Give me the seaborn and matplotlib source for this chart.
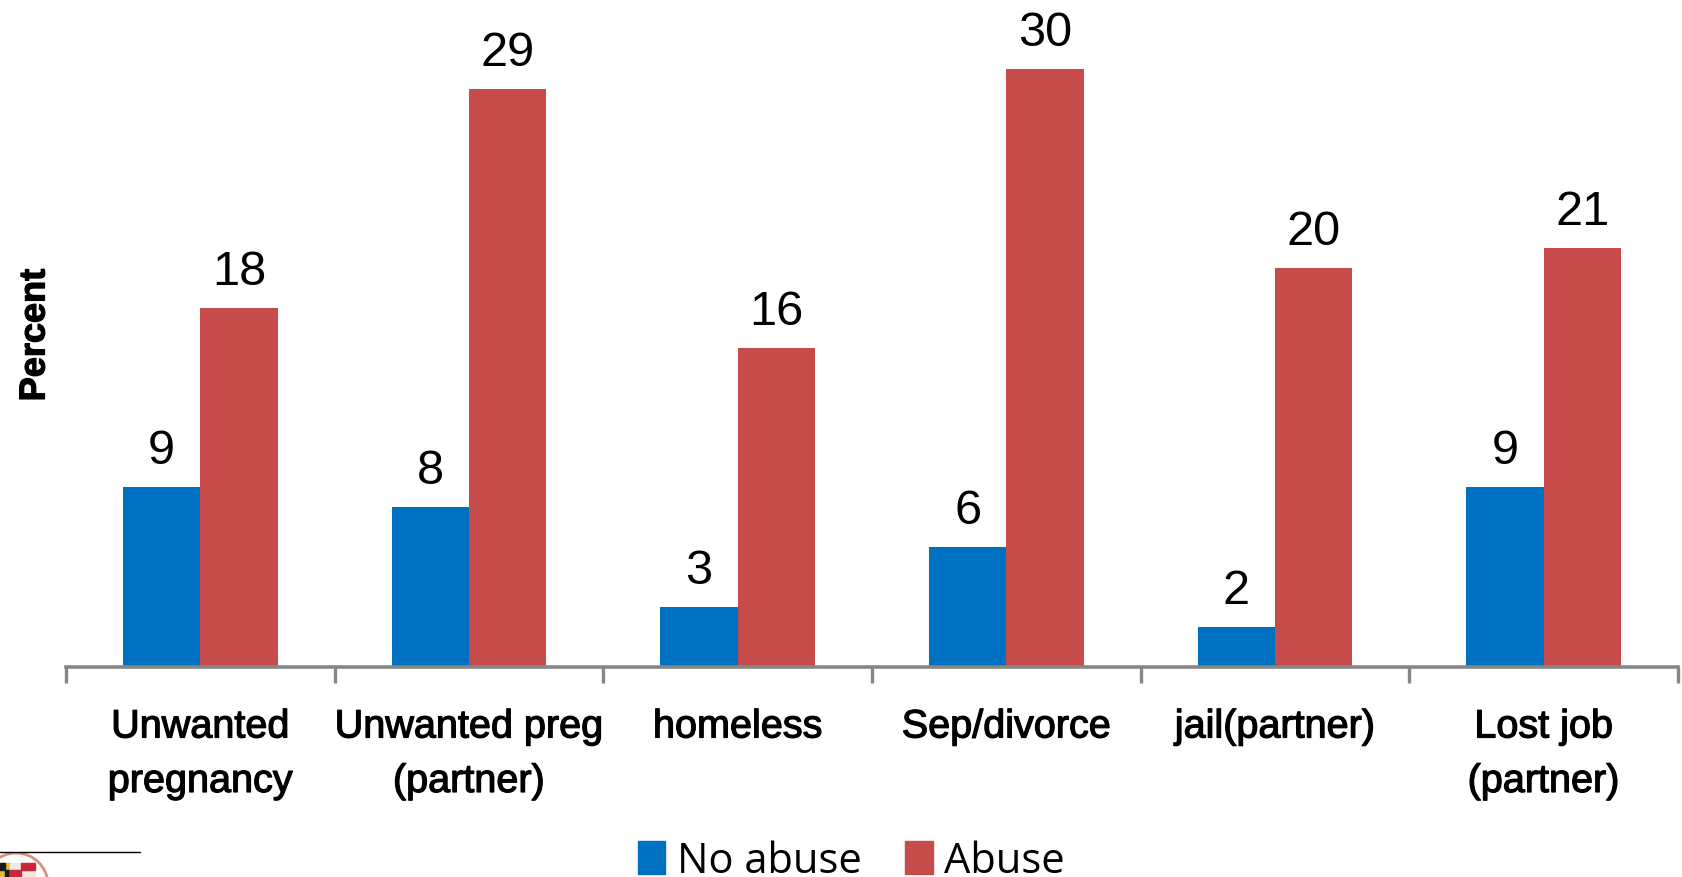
import matplotlib
matplotlib.use("Agg")
import matplotlib.pyplot as plt
import matplotlib.patheffects as pe
from matplotlib.patches import Circle, Rectangle
from matplotlib.ticker import FixedLocator
import pandas as pd
import seaborn as sns

categories = ["Unwanted\npregnancy", "Unwanted preg\n(partner)", "homeless",
              "Sep/divorce", "jail(partner)", "Lost job\n(partner)"]
no_abuse = [9, 8, 3, 6, 2, 9]
abuse = [18, 29, 16, 30, 20, 21]
series_names = ["No abuse", "Abuse"]
series_colors = ["#0070C0", "#C84B4B"]

W, H = 1683, 878
sns.set_theme(style="white")
plt.rcParams["font.family"] = ["Liberation Sans", "DejaVu Sans"]

frame = pd.DataFrame({
    "category": categories * 2,
    "series": [series_names[0]] * 6 + [series_names[1]] * 6,
    "percent": no_abuse + abuse,
})

fig = plt.figure(figsize=(W / 100, H / 100), dpi=100)
ax = fig.add_axes([66 / W, (H - 667.5) / H, (1678 - 66) / W, 667.5 / H])
sns.barplot(data=frame, x="category", y="percent", hue="series",
            hue_order=series_names, palette=series_colors, saturation=1,
            width=0.575, gap=0, legend=False, linewidth=0, ax=ax)

ax.set_xlim(-0.5, 5.5)
ax.set_ylim(0, 667.5 / 19.92)
ax.set_yticks([])
ax.set_xlabel("")
ax.set_ylabel("")
sns.despine(ax=ax, left=True)
ax.spines["bottom"].set_color("#868686")
ax.spines["bottom"].set_linewidth(2.6)

# Category separators hang below the axis; labels sit on the major positions
ax.xaxis.set_minor_locator(FixedLocator([i - 0.5 for i in range(7)]))
ax.tick_params(axis="x", which="minor", bottom=True, length=11.5, width=2.4, color="#868686")
ax.tick_params(axis="x", which="major", bottom=False, pad=23.5)
heavier = [pe.withStroke(linewidth=0.9, foreground="black")]
for label in ax.get_xticklabels():
    label.set_fontsize(28.5)
    label.set_color("black")
    label.set_linespacing(1.55)
    label.set_verticalalignment("top")
    label.set_path_effects(heavier)

for container in ax.containers:
    ax.bar_label(container, fontsize=35, color="black", padding=10)

fig.text(35 / W, 1 - 336 / H, "Percent", rotation=90, ha="center", va="center",
         fontsize=26, fontweight="bold", color="black", path_effects=heavier)

# Legend drawn along the bottom edge
handles = [Rectangle((0, 0), 1, 1, color=c) for c in series_colors]
fig.legend(handles, series_names, loc="lower left", bbox_to_anchor=(609 / W, -34 / H),
           ncol=2, frameon=False, prop={"family": "Open Sans", "size": 30},
           handlelength=0.65, handleheight=0.82, handletextpad=0.27, columnspacing=1.06,
           borderpad=0.2, labelcolor="black")

# Footer rule and partly visible seal
fig.add_artist(plt.Line2D([0, 140 / W], [1 - 853 / H] * 2, color="black", lw=1))
seal = fig.add_axes([0, 0, 60 / W, 24 / H])
seal.set_xlim(0, 60)
seal.set_ylim(878, 854)
seal.axis("off")
seal.add_patch(Circle((16, 886), 32, facecolor="white", edgecolor="#D9907A", lw=2.0))
seal.add_patch(Rectangle((0, 864), 10, 14, color="#E3B93A"))
seal.add_patch(Rectangle((0, 864), 5, 7, color="#1A1A1A"))
seal.add_patch(Rectangle((5, 871), 5, 7, color="#1A1A1A"))
seal.add_patch(Rectangle((10, 864), 25, 14, color="#EFE9E4"))
seal.add_patch(Rectangle((21, 864), 14, 7, color="#C8283C"))
seal.add_patch(Rectangle((10, 871), 11, 7, color="#C8283C"))

fig.savefig("out.png", dpi=100)
